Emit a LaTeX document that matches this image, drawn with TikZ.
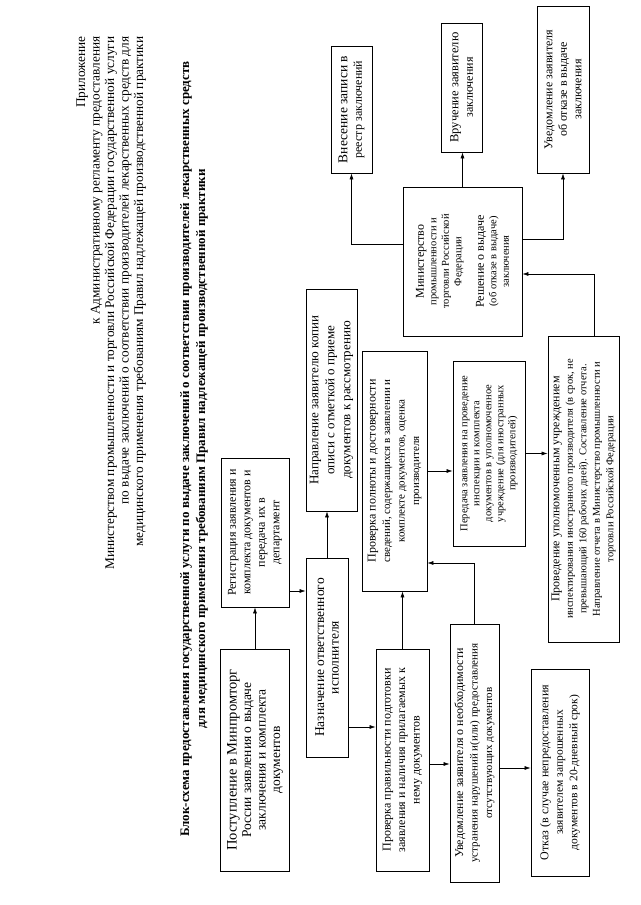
\documentclass[tikz,border=0pt]{standalone}
\usepackage{fontspec}
\setmainfont{Liberation Serif}
\usetikzlibrary{arrows.meta}

\newcommand{\firstln}[1]{{\fontsize{12}{14.5}\selectfont #1}}

\tikzset{
  box/.style={draw, line width=0.8pt, align=center, inner sep=1pt},
  bigtext/.style={font=\fontsize{13.5}{14.5}\selectfont},
  midtext/.style={font=\fontsize{11.5}{14.5}\selectfont},
  smalltext/.style={font=\fontsize{10.5}{13.5}\selectfont},
  arr/.style={-{Latex[length=6pt,width=4pt]}, line width=0.6pt}
}

\begin{document}
\begin{tikzpicture}[x=1pt, y=1pt]
\begin{scope}[rotate=90, transform shape]
\useasboundingbox (0,0) rectangle (905,640);
% header:
\node[anchor=north east, align=right, font=\fontsize{13.3}{14.5}\selectfont] (hdr) at (872,567)
  {Приложение\\к Административному регламенту предоставления\\Министерством промышленности и торговли Российской Федерации государственной услуги\\по выдаче заключений о соответствии производителей лекарственных средств для\\медицинского применения требованиям Правил надлежащей производственной практики};
\node[align=center, font=\bfseries\fontsize{13}{16}\selectfont] (title) at (456,446)
  {Блок-схема предоставления государственной услуги по выдаче заключений о соответствии производителей лекарственных средств\\для медицинского применения требованиям Правил надлежащей производственной практики};
% first column:
\node[box, bigtext, minimum width=222, minimum height=69] (post) at (145,385)
  {{\fontsize{14.5}{14.5}\selectfont Поступление в Минпромторг}\\России заявления о выдаче\\заключения и комплекта\\документов};
\node[box, font=\fontsize{12}{14.5}\selectfont, minimum width=149, minimum height=68] (reg) at (372.5,385)
  {Регистрация заявления и\\комплекта документов и\\передача их в\\департамент};
% second column:
\node[box, bigtext, minimum width=199, minimum height=42] (nazn) at (247.5,313)
  {Назначение ответственного\\исполнителя};
\node[box, font=\fontsize{13}{16}\selectfont, minimum width=222, minimum height=51] (napr) at (505,308.5)
  {Направление заявителю копии\\описи с отметкой о приеме\\документов к рассмотрению};
% checks:
\node[box, font=\fontsize{12}{14.5}\selectfont, minimum width=222, minimum height=53] (prav) at (145,237.5)
  {\firstln{Проверка правильности подготовки}\\заявления и наличия прилагаемых к\\нему документов};
\node[box, font=\fontsize{11}{14.5}\selectfont, minimum width=240, minimum height=65] (poln) at (434,245.5)
  {\firstln{Проверка полноты и достоверности}\\сведений, содержащихся в заявлении и\\комплекте документов, оценка\\производителя};
\node[box, font=\fontsize{11}{14.5}\selectfont, minimum width=258, minimum height=49] (uved) at (152,165.5)
  {\firstln{Уведомление заявителя о необходимости}\\устранения нарушений и(или) предоставления\\отсутствующих документов};
\node[box, midtext, minimum width=207, minimum height=58] (otk) at (132.5,80)
  {\firstln{Отказ (в случае непредоставления}\\заявителем запрошенных\\документов в 20-дневный срок)};
% inspection:
\node[box, font=\fontsize{10.5}{12}\selectfont, minimum width=185, minimum height=72] (pered) at (451.5,151)
  {Передача заявления на проведение\\инспекции и комплекта\\документов в уполномоченное\\учреждение (для иностранных\\производителей)};
\node[box, smalltext, minimum width=306, minimum height=71] (insp) at (416,56.5)
  {\firstln{Проведение уполномоченным учреждением}\\инспектирования иностранного производителя (в срок, не\\превышающий 160 рабочих дней). Составление отчета.\\Направление отчета в Министерство промышленности и\\торговли Российской Федерации};
\node[box, font=\fontsize{10.5}{12.5}\selectfont, minimum width=149, minimum height=119] (min) at (643.5,177.5)
  {\firstln{Министерство}\\промышленности и\\торговли Российской\\Федерации\\[10pt]\firstln{Решение о выдаче}\\(об отказе в выдаче)\\заключения};
% results:
\node[box, font=\fontsize{12}{14.5}\selectfont, minimum width=127, minimum height=41] (reestr) at (795.5,288.5)
  {{\fontsize{13.5}{14.5}\selectfont Внесение записи в}\\реестр заключений};
\node[box, font=\fontsize{12}{14.5}\selectfont, minimum width=129, minimum height=41] (vruch) at (817.5,178.5)
  {{\fontsize{12.5}{14.5}\selectfont Вручение заявителю}\\заключения};
\node[box, font=\fontsize{12}{14.5}\selectfont, minimum width=167, minimum height=52] (otkaz) at (815.5,77)
  {Уведомление заявителя\\об отказе в выдаче\\заключения};
% arrows:
\coordinate (bc) at (314,0);
\coordinate (ce) at (178,0);
\coordinate (eg) at (141,0);
\coordinate (gh) at (137,0);
\coordinate (gf) at (342,0);
\coordinate (jk) at (631,46);
\coordinate (kl) at (661,0);
\coordinate (kn) at (666,0);
\draw[arr] (post) -- (reg);
\draw[arr] (reg.south -| bc) -- (nazn.north -| bc);
\draw[arr] (nazn.east) -- (nazn.east -| napr.west);
\draw[arr] (nazn.south -| ce) -- (prav.north -| ce);
\draw[arr] (prav.east) -- (prav.east -| poln.west);
\draw[arr] (prav.south -| eg) -- (uved.north -| eg);
\draw[arr] (uved.south -| gh) -- (otk.north -| gh);
\draw[arr] (uved.east) -| (poln.south -| gf);
\draw[arr] (poln.south) -- (poln.south |- pered.north);
\draw[arr] (pered.south) -- (pered.south |- insp.north);
\draw[arr] (insp.east |- jk) -| (min.south -| jk);
\draw[arr] (min.north -| kl) |- (reestr.west);
\draw[arr] (min.east) -- (min.east -| vruch.west);
\draw[arr] (min.south -| kn) |- (otkaz.west);
\end{scope}
\end{tikzpicture}
\end{document}
